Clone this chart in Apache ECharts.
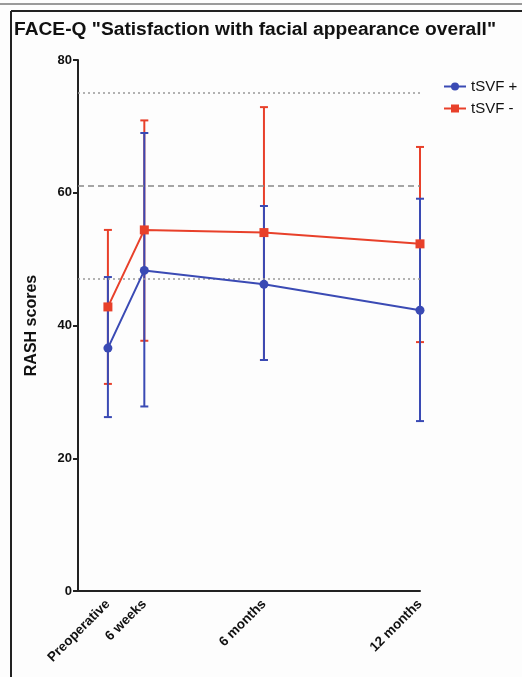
<!DOCTYPE html>
<html><head><meta charset="utf-8">
<script src="https://cdn.jsdelivr.net/npm/echarts@6/dist/echarts.min.js"></script>
<style>html,body{margin:0;padding:0;background:#fdfdfd;}#c{width:522px;height:677px;}</style>
</head><body><div id="c"></div>
<script>
// Time points (months after surgery) and labels
const timePoints = [0, 1.4, 6, 12];
const timeLabels = ['Preoperative', '6 weeks', '6 months', '12 months'];
// tSVF + (blue)
const plusMean  = [36.6, 48.3, 46.2, 42.3];
const plusUpper = [47.3, 69.0, 58.0, 59.1];
const plusLower = [26.2, 27.8, 34.8, 25.6];
// tSVF - (red)
const minusMean  = [42.8, 54.4, 54.0, 52.3];
const minusUpper = [54.4, 70.9, 72.9, 66.9];
const minusLower = [31.2, 37.7, 34.8, 37.5];
// reference lines (norm mean ± SD)
const refDotted = [75, 47];
const refDashed = [61];
const yTicks = [0, 20, 40, 60, 80];

const BLUE = '#3a4ab4', RED = '#e8402a';
const font = '"Liberation Sans", Arial, sans-serif';

function errData(mean, up, lo) {
  return timePoints.map((t, i) => [t, lo[i], up[i]]);
}
function errRender(color) {
  return function (params, api) {
    const x = api.value(0);
    const lo = api.coord([x, api.value(1)]);
    const hi = api.coord([x, api.value(2)]);
    const w = 4;
    const style = { stroke: color, lineWidth: 2 };
    return { type: 'group', children: [
      { type: 'line', shape: { x1: lo[0], y1: lo[1], x2: hi[0], y2: hi[1] }, style },
      { type: 'line', shape: { x1: lo[0] - w, y1: lo[1], x2: lo[0] + w, y2: lo[1] }, style },
      { type: 'line', shape: { x1: hi[0] - w, y1: hi[1], x2: hi[0] + w, y2: hi[1] }, style }
    ]};
  };
}

const chart = echarts.init(document.getElementById('c'), null, { renderer: 'canvas' });
chart.setOption({
  backgroundColor: '#fdfdfd',
  animation: false,
  textStyle: { fontFamily: font },
  title: {
    text: 'FACE-Q "Satisfaction with facial appearance overall"',
    left: 9, top: 15,
    textStyle: { fontFamily: font, fontWeight: 'bold', fontSize: 19.2, color: '#111' }
  },
  legend: {
    orient: 'vertical', left: 438, top: 74, itemGap: 7,
    itemWidth: 22, itemHeight: 10,
    textStyle: { fontFamily: font, fontSize: 15, color: '#111' },
    data: ['tSVF +', 'tSVF -']
  },
  grid: { left: 78, right: 102, top: 60, bottom: 86, containLabel: false },
  xAxis: {
    type: 'value', min: -1.15, max: 12,
    splitLine: { show: false },
    axisLine: { onZero: false, lineStyle: { color: '#222', width: 2 } },
    axisTick: { show: false },
    axisLabel: {
      customValues: timePoints, rotate: 45, margin: 11,
      fontFamily: font, fontWeight: 'bold', fontSize: 13.5, color: '#111',
      formatter: v => { const i = timePoints.indexOf(v); return i >= 0 ? timeLabels[i] : ''; }
    }
  },
  yAxis: {
    type: 'value', min: 0, max: 80, interval: 20,
    name: 'RASH scores', nameLocation: 'middle', nameGap: 38,
    nameTextStyle: { fontFamily: font, fontWeight: 'bold', fontSize: 16, color: '#111' },
    splitLine: { show: false },
    axisLine: { show: true, onZero: false, lineStyle: { color: '#222', width: 2 } },
    axisTick: { show: true, length: 5, lineStyle: { color: '#222', width: 2 } },
    axisLabel: { fontFamily: font, fontWeight: 'bold', fontSize: 13, color: '#111', margin: 6,
      formatter: v => yTicks.includes(v) ? String(v) : '' }
  },
  graphic: [
    { type: 'line', shape: { x1: 0, y1: 4, x2: 522, y2: 4 }, style: { stroke: '#9a9a9a', lineWidth: 2 }, silent: true },
    { type: 'line', shape: { x1: 11, y1: 11, x2: 522, y2: 11 }, style: { stroke: '#222', lineWidth: 2 }, silent: true },
    { type: 'line', shape: { x1: 11, y1: 11, x2: 11, y2: 677 }, style: { stroke: '#222', lineWidth: 2 }, silent: true }
  ],
  series: [
    {
      name: 'ref', type: 'line', data: [], silent: true,
      markLine: {
        symbol: 'none', silent: true, label: { show: false },
        data: refDotted.map(v => ({ yAxis: v, lineStyle: { type: [2, 3], color: '#999', width: 1.5 } }))
          .concat(refDashed.map(v => ({ yAxis: v, lineStyle: { type: [6, 4], color: '#888', width: 1.5 } })))
      }
    },
    { name: 'errMinus', type: 'custom', renderItem: errRender(RED), data: errData(minusMean, minusUpper, minusLower), z: 2, silent: true },
    { name: 'errPlus', type: 'custom', renderItem: errRender(BLUE), data: errData(plusMean, plusUpper, plusLower), z: 3, silent: true },
    {
      name: 'tSVF -', type: 'line', data: timePoints.map((t, i) => [t, minusMean[i]]),
      symbol: 'rect', symbolSize: 9, color: RED,
      lineStyle: { color: RED, width: 2 }, itemStyle: { color: RED }, z: 4
    },
    {
      name: 'tSVF +', type: 'line', data: timePoints.map((t, i) => [t, plusMean[i]]),
      symbol: 'circle', symbolSize: 9, color: BLUE,
      lineStyle: { color: BLUE, width: 2 }, itemStyle: { color: BLUE }, z: 5
    }
  ]
});
</script></body></html>
